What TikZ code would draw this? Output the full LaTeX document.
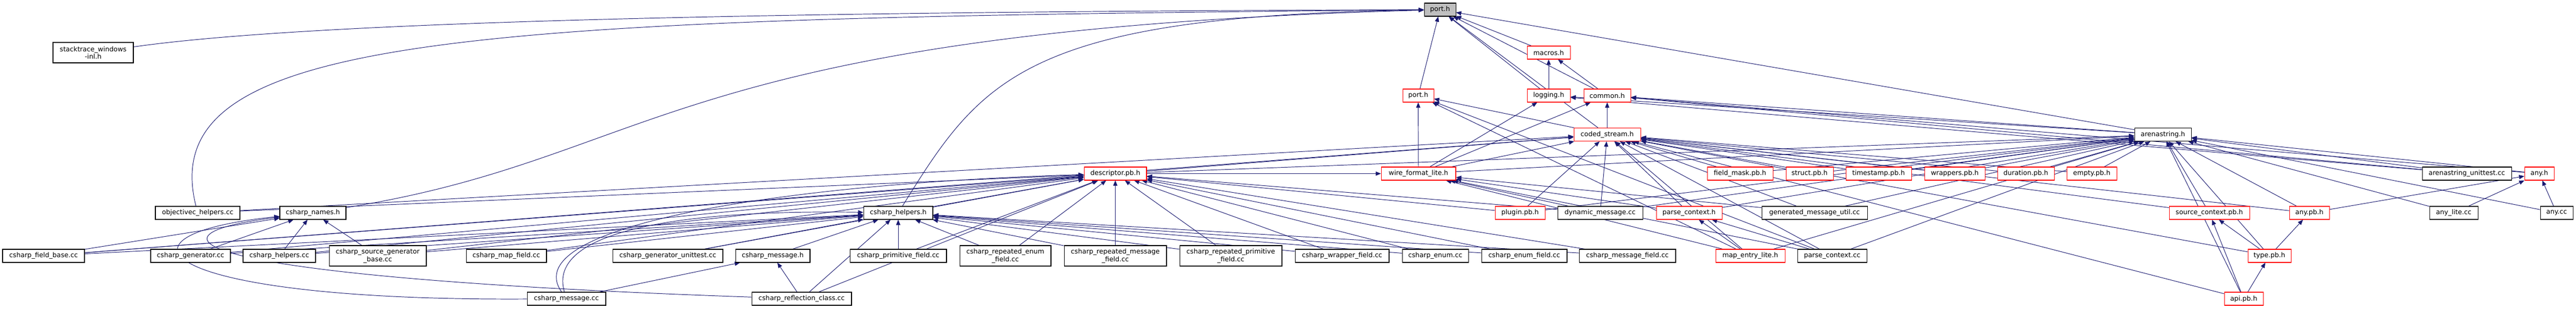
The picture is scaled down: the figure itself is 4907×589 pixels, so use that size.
\documentclass[tikz,border=0pt]{standalone}
\usepackage{fontspec}
\setmainfont{DejaVu Sans}
\usetikzlibrary{arrows.meta,backgrounds}
\definecolor{midnight}{HTML}{191970}
\definecolor{grey75}{HTML}{BFBFBF}

\begin{document}
\begin{tikzpicture}[x=0.02cm,y=-0.02cm]
	\tikzstyle{file} = [draw=black, fill=white, line width=0.6pt, font=\fontsize{7.2}{8.2}\selectfont, inner xsep=1pt, inner ysep=0pt, minimum height=0.5cm, align=center]
	\tikzstyle{trunc} = [file, draw=red]
	\tikzstyle{twoline} = [minimum height=0.78cm]
	\tikzstyle{edge} = [midnight, line width=0.55pt, -{Triangle[length=0.2cm,width=0.16cm]}]
	\useasboundingbox (0,0) rectangle (4907,589);
	% top ranks
	\node[file, fill=grey75, minimum width=1.2cm] (port) at (2743,18.5) {port.h};
	\node[file, twoline, minimum width=3.06cm] (stacktrace) at (177.5,100.5) {stacktrace\_windows\\-inl.h};
	\node[trunc, minimum width=1.64cm] (macros) at (2950,100.5) {macros.h};
	\node[trunc, minimum width=1.18cm] (port2) at (2701.5,182.5) {port.h};
	\node[trunc, minimum width=1.64cm] (logging) at (2950,182.5) {logging.h};
	\node[trunc, minimum width=1.78cm] (common) at (3061.5,182.5) {common.h};
	\node[trunc, minimum width=2.54cm] (coded) at (3061.5,257) {coded\_stream.h};
	\node[file, minimum width=2.16cm] (arena) at (4120,257) {arenastring.h};
	% headers
	\node[trunc, minimum width=2.38cm] (descpb) at (2124.5,331.5) {descriptor.pb.h};
	\node[trunc, minimum width=2.84cm] (wfl) at (2702,331.5) {wire\_format\_lite.h};
	\node[trunc, minimum width=2.5cm] (fieldmask) at (3314.5,331.5) {field\_mask.pb.h};
	\node[trunc, minimum width=1.8cm] (struct) at (3447,331.5) {struct.pb.h};
	\node[trunc, minimum width=2.5cm] (timestamp) at (3578.5,331.5) {timestamp.pb.h};
	\node[trunc, minimum width=2.3cm] (wrappers) at (3723.5,331.5) {wrappers.pb.h};
	\node[trunc, minimum width=2.16cm] (duration) at (3859,331.5) {duration.pb.h};
	\node[trunc, minimum width=1.9cm] (empty) at (3984.5,331.5) {empty.pb.h};
	\node[file, minimum width=3.4cm] (arenaunit) at (4699,331.5) {arenastring\_unittest.cc};
	\node[trunc, minimum width=1.12cm] (anyh) at (4837,331.5) {any.h};
	% middle rank
	\node[file, minimum width=3.22cm] (objc) at (376.5,406.5) {objectivec\_helpers.cc};
	\node[file, minimum width=2.52cm] (names) at (596,406.5) {csharp\_names.h};
	\node[file, minimum width=2.64cm] (helpersh) at (1711,406.5) {csharp\_helpers.h};
	\node[trunc, minimum width=1.9cm] (plugin) at (2895.5,406.5) {plugin.pb.h};
	\node[file, minimum width=3.24cm] (dynmsg) at (3048,406.5) {dynamic\_message.cc};
	\node[trunc, minimum width=2.5cm] (pctxh) at (3217.5,406.5) {parse\_context.h};
	\node[file, minimum width=4.02cm] (genutil) at (3456.5,406.5) {generated\_message\_util.cc};
	\node[trunc, minimum width=3.06cm] (srcctx) at (4208.5,406.5) {source\_context.pb.h};
	\node[trunc, minimum width=1.52cm] (anypb) at (4399,406.5) {any.pb.h};
	\node[file, minimum width=1.84cm] (anylite) at (4674,406.5) {any\_lite.cc};
	\node[file, minimum width=1.24cm] (anycc) at (4870,406.5) {any.cc};
	% sources
	\node[file, minimum width=3.12cm] (fieldbase) at (83,488.5) {csharp\_field\_base.cc};
	\node[file, minimum width=3.04cm] (generator) at (363,488.5) {csharp\_generator.cc};
	\node[file, minimum width=2.76cm] (helperscc) at (532,488.5) {csharp\_helpers.cc};
	\node[file, twoline, minimum width=3.7cm] (srcgen) at (719.5,488.5) {csharp\_source\_generator\\\_base.cc};
	\node[file, minimum width=3.06cm] (mapfield) at (964.5,488.5) {csharp\_map\_field.cc};
	\node[file, minimum width=4.2cm] (genunit) at (1272,488.5) {csharp\_generator\_unittest.cc};
	\node[file, minimum width=2.84cm] (msgh) at (1472,488.5) {csharp\_message.h};
	\node[file, minimum width=3.68cm] (primfield) at (1711,488.5) {csharp\_primitive\_field.cc};
	\node[file, twoline, minimum width=3.48cm] (repenum) at (1915,488.5) {csharp\_repeated\_enum\\\_field.cc};
	\node[file, twoline, minimum width=3.9cm] (repmsg) at (2124.5,488.5) {csharp\_repeated\_message\\\_field.cc};
	\node[file, twoline, minimum width=3.9cm] (repprim) at (2344.5,488.5) {csharp\_repeated\_primitive\\\_field.cc};
	\node[file, minimum width=3.58cm] (wrapper) at (2556.5,488.5) {csharp\_wrapper\_field.cc};
	\node[file, minimum width=2.52cm] (enumcc) at (2734,488.5) {csharp\_enum.cc};
	\node[file, minimum width=3.26cm] (enumfield) at (2903.5,488.5) {csharp\_enum\_field.cc};
	\node[file, minimum width=3.68cm] (msgfield) at (3100,488.5) {csharp\_message\_field.cc};
	\node[trunc, minimum width=2.64cm] (mapentry) at (3334,488.5) {map\_entry\_lite.h};
	\node[file, minimum width=2.64cm] (pctxcc) at (3490,488.5) {parse\_context.cc};
	\node[trunc, minimum width=1.64cm] (typepb) at (4323,488.5) {type.pb.h};
	\node[file, minimum width=3cm] (msgcc) at (1079,570.5) {csharp\_message.cc};
	\node[file, minimum width=3.8cm] (reflect) at (1527,570.5) {csharp\_reflection\_class.cc};
	\node[trunc, minimum width=1.48cm] (apipb) at (4274,570.5) {api.pb.h};
	\begin{pgfonlayer}{background}
	% long edges into port.h from the left
	\draw[edge] (stacktrace) .. controls (600,40) and (1500,22) .. (port);
	\draw[edge] (objc) .. controls (290,60) and (900,35) .. (port);
	\draw[edge] (names) .. controls (1260,300) and (1260,60) .. (port);
	\draw[edge] (helpersh) .. controls (1870,150) and (1950,30) .. (port);
	\foreach \s in {port2,macros,logging,common,coded,arena} \draw[edge] (\s) -- (port);
	\foreach \s in {logging,common} \draw[edge] (\s) -- (macros);
	\foreach \s in {wfl,coded,mapentry,pctxcc} \draw[edge] (\s) -- (port2);
	\foreach \s in {wfl,arena,arenaunit} \draw[edge] (\s) -- (logging);
	\foreach \s in {wfl,coded,arena,arenaunit,anyh} \draw[edge] (\s) -- (common);
	\foreach \s in {objc,fieldbase,descpb,wfl,plugin,dynmsg,pctxh,genutil,mapentry,pctxcc,fieldmask,struct,timestamp,wrappers,duration,empty,srcctx,anypb,typepb,apipb} \draw[edge] (\s) -- (coded);
	\foreach \s in {descpb,wfl,plugin,dynmsg,pctxh,genutil,mapentry,pctxcc,fieldmask,struct,timestamp,wrappers,duration,empty,srcctx,anypb,typepb,apipb,arenaunit,anyh,anylite,anycc} \draw[edge] (\s) -- (arena);
	\foreach \s in {helpersh,objc,fieldbase,generator,helperscc,srcgen,mapfield,genunit,reflect,primfield,repenum,repmsg,repprim,wrapper,enumcc,enumfield,msgfield,plugin,dynmsg} \draw[edge] (\s) -- (descpb);
	\foreach \s in {fieldbase,generator,helperscc,srcgen,mapfield,genunit,msgh,reflect,primfield,repenum,repmsg,repprim,wrapper,enumcc,enumfield,msgfield} \draw[edge] (\s) -- (helpersh);
	\foreach \s in {fieldbase,generator,helperscc,srcgen} \draw[edge] (\s) -- (names);
	% csharp_message.cc and csharp_reflection_class.cc swing round the left
	\draw[edge] (msgcc) .. controls (300,575) and (180,450) .. (names);
	\draw[edge] (reflect) .. controls (350,530) and (250,450) .. (names);
	\draw[edge] (msgcc) .. controls (1040,440) and (1300,400) .. (helpersh);
	\draw[edge] (msgcc) .. controls (980,430) and (1500,350) .. (descpb);
	\foreach \s in {msgcc,reflect} \draw[edge] (\s) -- (msgh);
	\foreach \s in {descpb,dynmsg,genutil,pctxh,mapentry,pctxcc} \draw[edge] (\s) -- (wfl);
	\foreach \s in {mapentry,pctxcc} \draw[edge] (\s) -- (pctxh);
	\foreach \s in {typepb,apipb} \draw[edge] (\s) -- (srcctx);
	\draw[edge] (typepb) -- (anypb);
	\draw[edge] (apipb) -- (typepb);
	\foreach \s in {anypb,anylite,anycc} \draw[edge] (\s) -- (anyh);
	\end{pgfonlayer}
\end{tikzpicture}
\end{document}
